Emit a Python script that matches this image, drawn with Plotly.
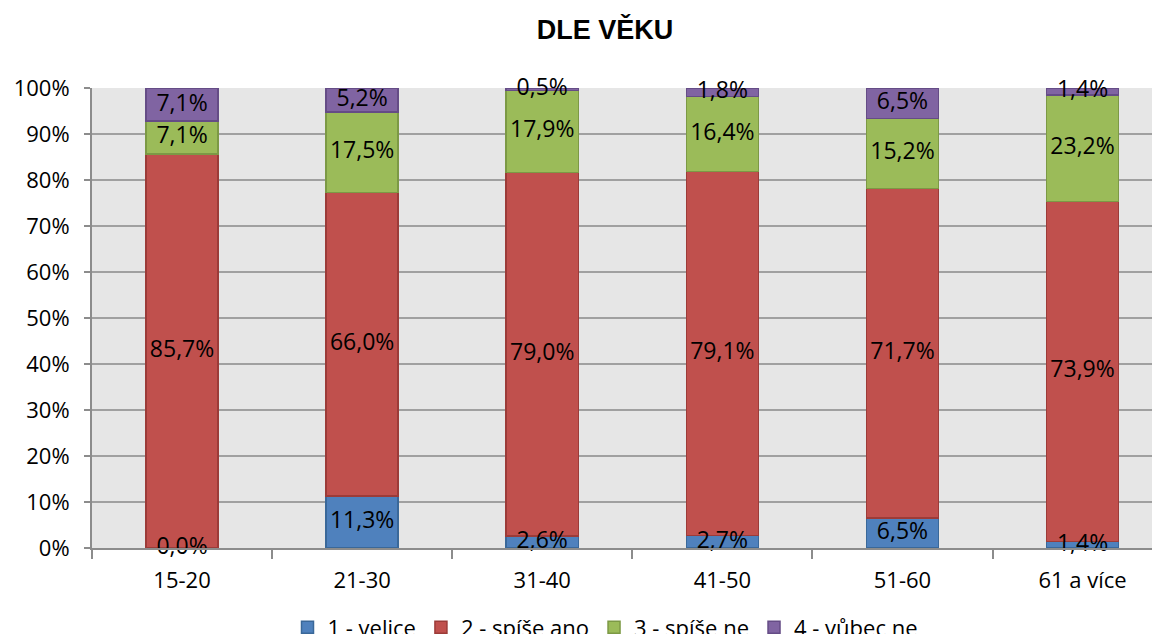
import plotly.graph_objects as go

categories = ["15-20", "21-30", "31-40", "41-50", "51-60", "61 a více"]
series_names = ["1 - velice", "2 - spíše ano", "3 - spíše ne", "4 - vůbec ne"]
velice = [0.0, 11.3, 2.6, 2.7, 6.5, 1.4]
spise_ano = [85.7, 66.0, 79.0, 79.1, 71.7, 73.9]
spise_ne = [7.1, 17.5, 17.9, 16.4, 15.2, 23.2]
vubec_ne = [7.1, 5.2, 0.5, 1.8, 6.5, 1.4]
y_ticks = [0, 10, 20, 30, 40, 50, 60, 70, 80, 90, 100]

series = [velice, spise_ano, spise_ne, vubec_ne]
fills = ["#4F81BD", "#C0504D", "#9BBB59", "#8064A2"]
lines = ["#3A6899", "#9C3B38", "#7C9945", "#654C86"]

FONT = "Open Sans, Liberation Sans, sans-serif"

# the page body adds an 8px offset; layout below compensates for it
fig = go.Figure()
for name, vals, fc, lc in zip(series_names, series, fills, lines):
    fig.add_trace(go.Bar(
        x=categories, y=vals, name=name, width=0.4,
        marker=dict(color=fc, line=dict(color=lc, width=1.5)),
        hoverinfo="skip",
    ))

# data labels at segment centres
lx, ly, lt = [], [], []
base = [0.0] * len(categories)
for vals in series:
    for i, v in enumerate(vals):
        lx.append(categories[i])
        ly.append(base[i] + v / 2)
        lt.append(f"{v:.1f}%".replace(".", ","))
        base[i] += v
fig.add_trace(go.Scatter(
    x=lx, y=ly, text=lt, mode="text", showlegend=False,
    textfont=dict(family=FONT, size=23, color="#000000"),
    hoverinfo="skip", cliponaxis=False,
))

fig.update_layout(
    width=1160, height=634,
    barmode="stack",
    paper_bgcolor="#FFFFFF",
    plot_bgcolor="#E6E6E6",
    margin=dict(l=84, r=8, t=80, b=94, autoexpand=False),
    title=dict(text="<b>DLE VĚKU</b>", x=597 / 1160, xanchor="center", xref="container",
               y=1 - 22 / 634, yanchor="middle", yref="container",
               font=dict(family="Liberation Sans, Arial, sans-serif", size=27, color="#000000")),
    font=dict(family=FONT, size=22, color="#000000"),
    legend=dict(orientation="h", x=(597 - 84) / 1068, xanchor="center",
                y=-0.127, yanchor="top",
                font=dict(family=FONT, size=22, color="#000000"),
                traceorder="normal"),
    showlegend=True,
)
fig.update_xaxes(
    type="category", range=[-0.5, 5.43], automargin=False, tickangle=0,
    showgrid=False, showline=True, linecolor="#8C8C8C", linewidth=2,
    ticks="outside", tickson="boundaries", ticklen=9, tickcolor="#8C8C8C", tickwidth=2,
    ticklabelstandoff=12,
    tickfont=dict(family=FONT, size=22),
)
fig.update_yaxes(
    range=[0, 100], tickvals=y_ticks, ticktext=[f"{t}%" for t in y_ticks], automargin=False,
    showgrid=True, gridcolor="#A0A0A0", gridwidth=2,
    showline=True, linecolor="#8C8C8C", linewidth=2,
    ticks="outside", ticklen=6, tickcolor="#8C8C8C", tickwidth=2,
    ticklabelstandoff=10,
    tickfont=dict(family=FONT, size=22), zeroline=False,
)

fig.write_html("out.html")
